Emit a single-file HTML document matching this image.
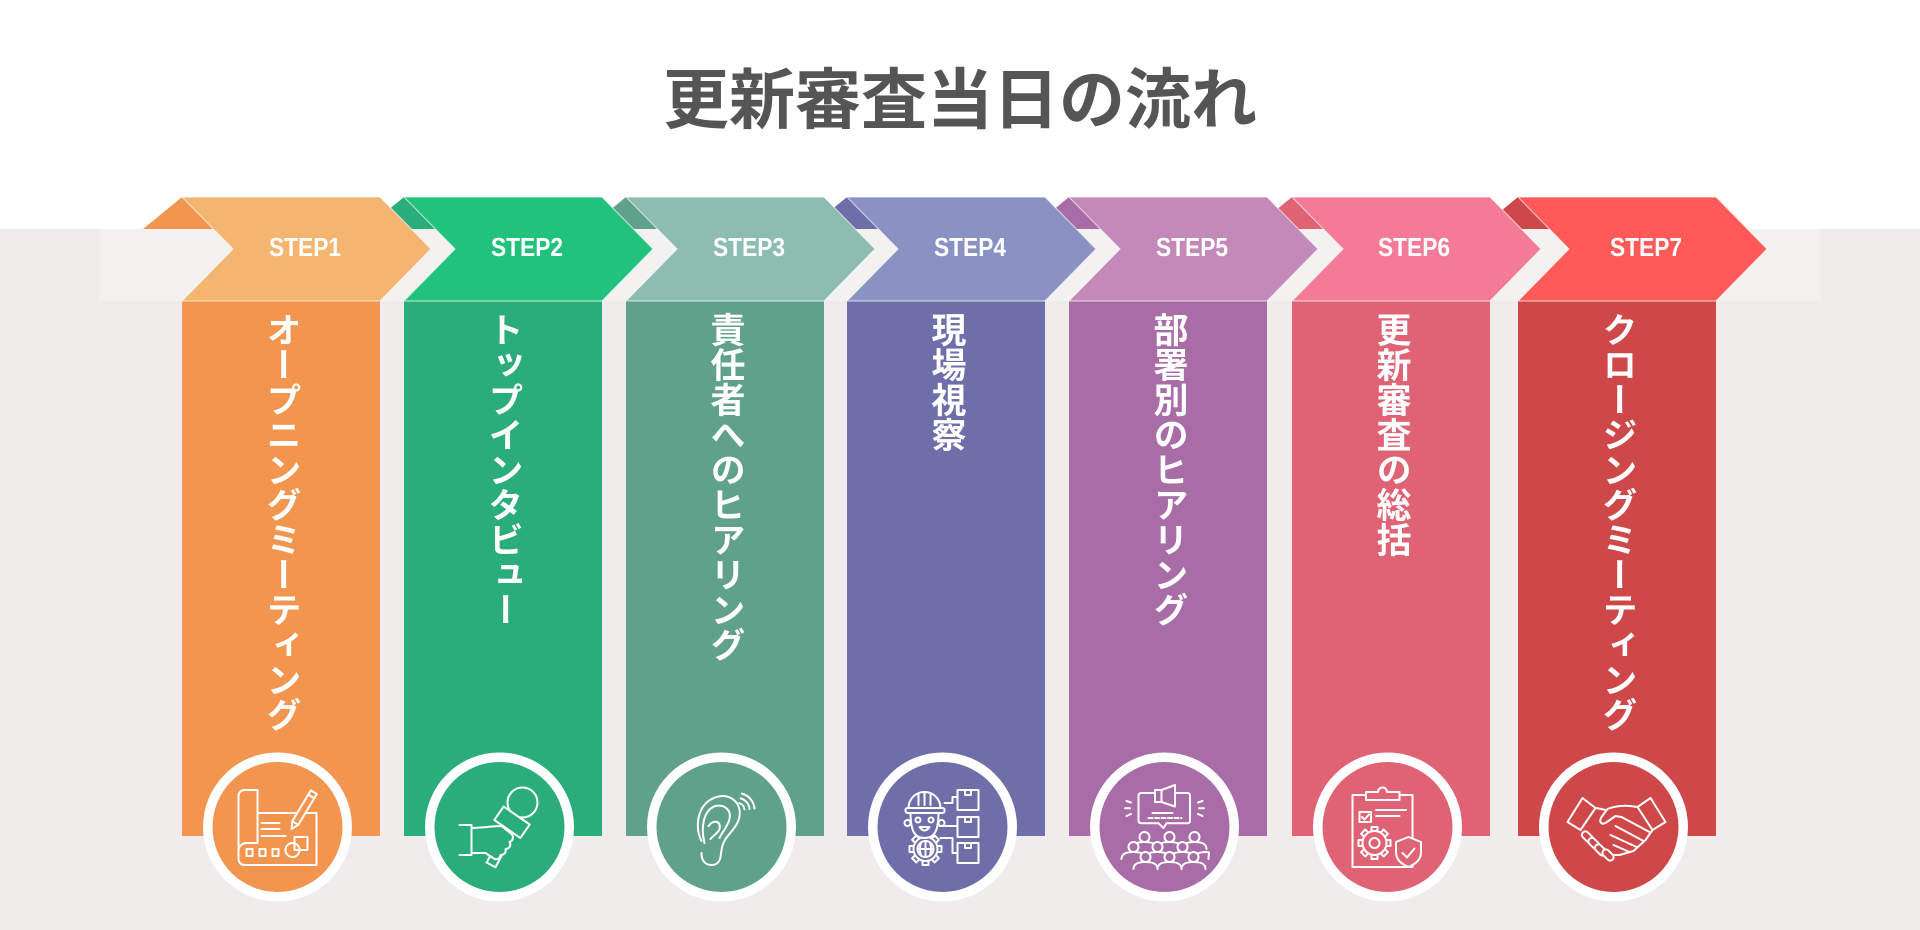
<!DOCTYPE html>
<html>
<head>
<meta charset="utf-8">
<style>
  html,body{margin:0;padding:0;}
  body{width:1920px;height:930px;overflow:hidden;background:#ffffff;position:relative;}
  svg{position:absolute;left:0;top:0;}
  .v{position:absolute;top:312px;width:35px;writing-mode:vertical-rl;font-family:"Liberation Sans","Noto Sans CJK JP",sans-serif;font-weight:700;font-size:35px;line-height:35px;color:#ffffff;white-space:nowrap;}
</style>
</head>
<body>
<svg width="1920" height="930" viewBox="0 0 1920 930" xmlns="http://www.w3.org/2000/svg">
  <!-- backgrounds -->
  <rect x="0" y="0" width="1920" height="930" fill="#ffffff"/>
  <rect x="0" y="229" width="1920" height="701" fill="#F0ECEC"/>
  <rect x="99" y="229" width="1722" height="72" fill="#F3F2F1"/>

  <!-- title -->
  <text x="960" y="123" text-anchor="middle" font-family="'Liberation Sans','Noto Sans CJK JP',sans-serif" font-weight="700" font-size="66" fill="#555555">更新審査当日の流れ</text>

  <!-- dark back triangles -->
  <polygon points="143,229 182,197 214,229" fill="#F2964F"/>
  <polygon points="365,229 404,197 436,229" fill="#2BAD7B"/>
  <polygon points="587,229 626,197 658,229" fill="#60A18C"/>
  <polygon points="808,229 847,197 879,229" fill="#6E6EA8"/>
  <polygon points="1030,229 1069,197 1101,229" fill="#A86DA7"/>
  <polygon points="1253,229 1292,197 1324,229" fill="#DF6374"/>
  <polygon points="1479,229 1518,197 1550,229" fill="#CF4849"/>

  <!-- columns -->
  <rect x="182" y="301" width="198" height="535" fill="#F2964F"/>
  <rect x="404" y="301" width="198" height="535" fill="#2BAD7B"/>
  <rect x="626" y="301" width="198" height="535" fill="#60A18C"/>
  <rect x="847" y="301" width="198" height="535" fill="#6E6EA8"/>
  <rect x="1069" y="301" width="198" height="535" fill="#A86DA7"/>
  <rect x="1292" y="301" width="198" height="535" fill="#DF6374"/>
  <rect x="1518" y="301" width="198" height="535" fill="#CF4849"/>

  <!-- chevrons -->
  <g stroke="#ffffff" stroke-opacity="0.6" stroke-width="1.2">
    <polygon points="182,197 380,197 431,249 380,301 182,301 233,249" fill="#F3B56F"/>
    <polygon points="404,197 602,197 653,249 602,301 404,301 455,249" fill="#21C27C"/>
    <polygon points="626,197 824,197 875,249 824,301 626,301 677,249" fill="#8DBCB0"/>
    <polygon points="847,197 1045,197 1096,249 1045,301 847,301 898,249" fill="#8A92C3"/>
    <polygon points="1069,197 1267,197 1318,249 1267,301 1069,301 1120,249" fill="#C289B9"/>
    <polygon points="1292,197 1490,197 1541,249 1490,301 1292,301 1343,249" fill="#F37B97"/>
    <polygon points="1518,197 1716,197 1767,249 1716,301 1518,301 1569,249" fill="#FF5A59"/>
  </g>

  <!-- step labels -->
  <g font-family="'Liberation Sans',sans-serif" font-weight="700" font-size="26" fill="#ffffff" text-anchor="middle">
    <text x="305" y="256" textLength="72" lengthAdjust="spacingAndGlyphs">STEP1</text>
    <text x="527" y="256" textLength="72" lengthAdjust="spacingAndGlyphs">STEP2</text>
    <text x="749" y="256" textLength="72" lengthAdjust="spacingAndGlyphs">STEP3</text>
    <text x="970" y="256" textLength="72" lengthAdjust="spacingAndGlyphs">STEP4</text>
    <text x="1192" y="256" textLength="72" lengthAdjust="spacingAndGlyphs">STEP5</text>
    <text x="1414" y="256" textLength="72" lengthAdjust="spacingAndGlyphs">STEP6</text>
    <text x="1646" y="256" textLength="72" lengthAdjust="spacingAndGlyphs">STEP7</text>
  </g>

  <!-- circles -->
  <g>
    <circle cx="277.5" cy="827" r="74.5" fill="#ffffff"/>
    <circle cx="277.5" cy="827" r="65" fill="#F2964F"/>
    <circle cx="499.5" cy="827" r="74.5" fill="#ffffff"/>
    <circle cx="499.5" cy="827" r="65" fill="#2BAD7B"/>
    <circle cx="721.5" cy="827" r="74.5" fill="#ffffff"/>
    <circle cx="721.5" cy="827" r="65" fill="#60A18C"/>
    <circle cx="942.5" cy="827" r="74.5" fill="#ffffff"/>
    <circle cx="942.5" cy="827" r="65" fill="#6E6EA8"/>
    <circle cx="1164.5" cy="827" r="74.5" fill="#ffffff"/>
    <circle cx="1164.5" cy="827" r="65" fill="#A86DA7"/>
    <circle cx="1387.5" cy="827" r="74.5" fill="#ffffff"/>
    <circle cx="1387.5" cy="827" r="65" fill="#DF6374"/>
    <circle cx="1613.5" cy="827" r="74.5" fill="#ffffff"/>
    <circle cx="1613.5" cy="827" r="65" fill="#CF4849"/>
  </g>

  <!-- icon 1: blueprint -->
  <g transform="translate(277.5,827)" stroke="#ffffff" stroke-width="2" fill="none" stroke-linejoin="round" stroke-linecap="round">
    <path d="M -20 -14 V -37 H -33 A 6 6 0 0 0 -39 -31 V 32 A 6 6 0 0 0 -33 38 H 39 V -14 H -20"/>
    <path d="M -39 24 A 8 8 0 0 1 -31 16 H -20 V -14"/>
    <path d="M -16 -4 H 2 M -16 2 H 2 M -16 9 H 8"/>
    <rect x="-31" y="22" width="6" height="7"/>
    <rect x="-18" y="22" width="6" height="7"/>
    <rect x="-5" y="22" width="6" height="7"/>
    <rect x="17" y="10" width="13" height="13"/>
    <circle cx="15" cy="23" r="7"/>
    <g transform="translate(25,-16) rotate(31)">
      <path d="M -3.5 -22 H 3.5 V 14 L 0 21 L -3.5 14 Z" fill="#F2964F"/>
      <path d="M -3.5 -17 H 3.5 M -3.5 14 H 3.5"/>
    </g>
  </g>

  <!-- icon 2: hand holding mic -->
  <g transform="translate(499.5,827)" stroke="#ffffff" stroke-width="2" fill="none" stroke-linejoin="round" stroke-linecap="round">
    <path d="M -40 -2 H -28 V 28 H -40"/>
    <g transform="translate(0,22) rotate(28)">
      <rect x="-5" y="-18" width="10" height="36" fill="#2BAD7B"/>
    </g>
    <path d="M -28 1 C -16 1 -8 -1 2 -1 L 12 7 C 15 10 13 14 10 15 C 12 18 10 22 6 22 C 7 26 4 28 1 28 C 1 31 -2 33 -5 32 L -14 26 H -28 Z" fill="#2BAD7B"/>
    <circle cx="23" cy="-24.5" r="15" fill="#2BAD7B"/>
    <rect x="-15.8" y="-8.2" width="31.6" height="16.4" transform="translate(12.5,-4.75) rotate(34.7)" fill="#2BAD7B"/>
  </g>

  <!-- icon 3: ear -->
  <g transform="translate(721.5,827)" stroke="#ffffff" stroke-width="2" fill="none" stroke-linejoin="round" stroke-linecap="round">
    <path d="M -20 14 C -27 1 -25 -24 -5 -30 C 9 -34 20 -24 18 -11 C 17 -2 9 5 4 12 C 0 18 0 24 -1 30 C -2 36 -6 38 -10 38 C -16 38 -20 34 -20 26"/>
    <path d="M -17 16 C -21 0 -18 -17 -6 -21 C 4 -23 10 -16 8 -8 C 6 0 0 6 -2 11"/>
    <path d="M -13 -1 C -8 -8 0 -6 -2 2 C -3 6 -8 8 -11 12"/>
    <path d="M 17.8 -23.8 A 7 7 0 0 1 23 -17.6"/>
    <path d="M 19.1 -28.6 A 12 12 0 0 1 28 -18"/>
    <path d="M 20.4 -33.4 A 17 17 0 0 1 33 -18.5"/>
  </g>

  <!-- icon 4: worker with boxes -->
  <g transform="translate(942.5,827)" stroke="#ffffff" stroke-width="2" fill="none" stroke-linejoin="round" stroke-linecap="round">
    <!-- connectors -->
    <path d="M 2 -24 H 10 V -30 H 15"/>
    <path d="M -3 -1 H 15"/>
    <path d="M -2 11 H 10 V 26 H 15"/>
    <!-- boxes -->
    <rect x="15" y="-37" width="21" height="20" fill="#6E6EA8"/>
    <path d="M 22.5 -37 V -32 H 28.5 V -37"/>
    <rect x="15" y="-10" width="21" height="20" fill="#6E6EA8"/>
    <path d="M 22.5 -10 V -5 H 28.5 V -10"/>
    <rect x="15" y="16" width="21" height="20" fill="#6E6EA8"/>
    <path d="M 22.5 16 V 21 H 28.5 V 16"/>
    <!-- gear body -->
    <g transform="translate(-17,22)">
      <rect x="-3" y="-16" width="6" height="5" fill="#6E6EA8"/>
      <rect x="-3" y="-16" width="6" height="5" fill="#6E6EA8" transform="rotate(45)"/>
      <rect x="-3" y="-16" width="6" height="5" fill="#6E6EA8" transform="rotate(90)"/>
      <rect x="-3" y="-16" width="6" height="5" fill="#6E6EA8" transform="rotate(135)"/>
      <rect x="-3" y="-16" width="6" height="5" fill="#6E6EA8" transform="rotate(180)"/>
      <rect x="-3" y="-16" width="6" height="5" fill="#6E6EA8" transform="rotate(225)"/>
      <rect x="-3" y="-16" width="6" height="5" fill="#6E6EA8" transform="rotate(270)"/>
      <rect x="-3" y="-16" width="6" height="5" fill="#6E6EA8" transform="rotate(315)"/>
      <circle r="12" fill="#6E6EA8"/>
      <circle r="8"/>
      <path d="M -8 0 H 8 M 0 -8 V 8 M -4 -7 C -6 -3 -6 3 -4 7 M 4 -7 C 6 -3 6 3 4 7"/>
    </g>
    <!-- head -->
    <path d="M -32 -15 C -32 4 -28 11 -18 11 C -8 11 -4 4 -4 -15 Z" fill="#6E6EA8"/>
    <circle cx="-35" cy="-4" r="3" fill="#6E6EA8"/>
    <circle cx="-1" cy="-4" r="3" fill="#6E6EA8"/>
    <circle cx="-24.5" cy="-7" r="2.5"/>
    <circle cx="-11.5" cy="-7" r="2.5"/>
    <path d="M -23 0 Q -18 7 -13 0 Z"/>
    <!-- helmet -->
    <path d="M -34 -19 A 16 16 0 0 1 -2 -19 Z" fill="#6E6EA8"/>
    <path d="M -24 -32 V -22 M -18 -35 V -22 M -12 -32 V -22"/>
    <rect x="-37" y="-19" width="39" height="5" rx="2" fill="#6E6EA8"/>
  </g>

  <!-- icon 5: megaphone + crowd -->
  <g transform="translate(1164.5,827)" stroke="#ffffff" stroke-width="2" fill="none" stroke-linejoin="round" stroke-linecap="round">
    <path d="M -23 -34 H 23 Q 25.5 -34 25.5 -31 V -6.5 Q 25.5 -3.7 23 -3.7 H 2 L -1 1 L -6 -3.7 H -23 Q -26 -3.7 -26 -6.5 V -31 Q -26 -34 -23 -34 Z"/>
    <path d="M -9.5 -37 H -3 V -25 H -9.5 Z" fill="#A86DA7"/>
    <path d="M -3 -37 L 10.5 -42 V -20.5 L -3 -25 Z" fill="#A86DA7"/>
    <path d="M -12 -14 H 8"/>
    <path d="M -16 -9 H 17" stroke-dasharray="4 2.5"/>
    <path d="M -38 -26 L -33.5 -24.5 M -39.5 -18.7 H -34.5 M -38 -11 L -33.5 -13"/>
    <path d="M 38 -26 L 33.5 -24.5 M 39.5 -18.7 H 34.5 M 38 -11 L 33.5 -13"/>
    <!-- back row -->
    <g fill="#A86DA7">
      <path d="M -32 22 C -32 16 -26 15 -20 15 C -14 15 -8 16 -8 22"/><circle cx="-20" cy="10" r="5"/>
      <path d="M -7 22 C -7 16 -1 15 5 15 C 11 15 17 16 17 22"/><circle cx="5" cy="10" r="5"/>
      <path d="M 18 22 C 18 16 24 15 30 15 C 36 15 42 16 42 22"/><circle cx="30" cy="10" r="5"/>
      <!-- middle row -->
      <path d="M -43 32 C -43 26 -37 25 -31 25 C -25 25 -19 26 -19 32"/><circle cx="-31" cy="20" r="5"/>
      <path d="M -19 32 C -19 26 -13 25 -7 25 C -1 25 5 26 5 32"/><circle cx="-7" cy="20" r="5"/>
      <path d="M 6 32 C 6 26 12 25 18 25 C 24 25 30 26 30 32"/><circle cx="18" cy="20" r="5"/>
      <path d="M 30 32 C 30 26 36 25 42 25 C 46 25 44 26 44 32"/>
      <!-- front row -->
      <path d="M -31 42 C -31 36 -25 35 -19 35 C -13 35 -7 36 -7 42"/><circle cx="-19" cy="30" r="5"/>
      <path d="M -7 42 C -7 36 -1 35 5 35 C 11 35 17 36 17 42"/><circle cx="5" cy="30" r="5"/>
      <path d="M 17 42 C 17 36 23 35 29 35 C 35 35 41 36 41 42"/><circle cx="29" cy="30" r="5"/>
    </g>
  </g>

  <!-- icon 6: clipboard, gear, shield -->
  <g transform="translate(1387.5,827)" stroke="#ffffff" stroke-width="2" fill="none" stroke-linejoin="round" stroke-linecap="round">
    <rect x="-35" y="-32" width="60" height="72"/>
    <path d="M -21.5 -27 V -35 H -9.5 A 4.5 4.5 0 0 1 -0.5 -35 H 12 V -27 Z" fill="#DF6374"/>
    <rect x="-28" y="-15" width="11.5" height="10"/>
    <path d="M -25.5 -10 L -23 -7.5 L -18.5 -12.5"/>
    <path d="M -11.5 -17 H 18.5 M -11.5 -11 H 12"/>
    <g transform="translate(-13,16)">
      <rect x="-3" y="-16" width="6" height="5" fill="#DF6374"/>
      <rect x="-3" y="-16" width="6" height="5" fill="#DF6374" transform="rotate(45)"/>
      <rect x="-3" y="-16" width="6" height="5" fill="#DF6374" transform="rotate(90)"/>
      <rect x="-3" y="-16" width="6" height="5" fill="#DF6374" transform="rotate(135)"/>
      <rect x="-3" y="-16" width="6" height="5" fill="#DF6374" transform="rotate(180)"/>
      <rect x="-3" y="-16" width="6" height="5" fill="#DF6374" transform="rotate(225)"/>
      <rect x="-3" y="-16" width="6" height="5" fill="#DF6374" transform="rotate(270)"/>
      <rect x="-3" y="-16" width="6" height="5" fill="#DF6374" transform="rotate(315)"/>
      <circle r="12" fill="#DF6374"/>
      <circle r="5"/>
    </g>
    <path d="M 21 10 L 33.5 15 V 25 C 33.5 33 28 37 21 40 C 14 37 8.5 33 8.5 25 V 15 Z" fill="#DF6374"/>
    <path d="M 15 26 L 19.5 30.5 L 27 21.5"/>
  </g>

  <!-- icon 7: handshake -->
  <g transform="translate(1613.5,827)" stroke="#ffffff" stroke-width="2" fill="none" stroke-linejoin="round" stroke-linecap="round">
    <path d="M -18 -19 C -10 -18 -4 -16 2 -13"/>
    <path d="M 39 3 L 32 13 L 20 24 L 6 28 L -2 28"/>
    <path d="M 24 -20 C 14 -22 4 -22 -6 -18 L -12 -10 C -15 -5 -12 -2 -8 -4 L 2 -11 L 8 -10 L 36 5" fill="#CF4849"/>
    <path d="M 2 -1 L 30 14 M -3 8 L 23 20 M 0 18 L 16 25"/>
    <g fill="#CF4849">
      <rect x="-6.5" y="-3.5" width="13" height="7" rx="3.5" transform="translate(-26,10) rotate(45)"/>
      <rect x="-6.5" y="-3.5" width="13" height="7" rx="3.5" transform="translate(-19.5,16.5) rotate(45)"/>
      <rect x="-6.5" y="-3.5" width="13" height="7" rx="3.5" transform="translate(-13,23) rotate(45)"/>
      <rect x="-6.5" y="-3.5" width="13" height="7" rx="3.5" transform="translate(-5.5,28) rotate(45)"/>
    </g>
    <polygon points="-46,-5 -31,-29 -18,-19 -33,3" fill="#CF4849"/>
    <polygon points="24,-20 37,-29 52,-5 39,3" fill="#CF4849"/>
  </g>
</svg>

<div class="v" style="left:263.5px;">オープニングミーティング</div>
<div class="v" style="left:485.5px;">トップインタビュー</div>
<div class="v" style="left:707.5px;">責任者へのヒアリング</div>
<div class="v" style="left:928.5px;">現場視察</div>
<div class="v" style="left:1150.5px;">部署別のヒアリング</div>
<div class="v" style="left:1373.5px;">更新審査の総括</div>
<div class="v" style="left:1599.5px;">クロージングミーティング</div>
</body>
</html>
